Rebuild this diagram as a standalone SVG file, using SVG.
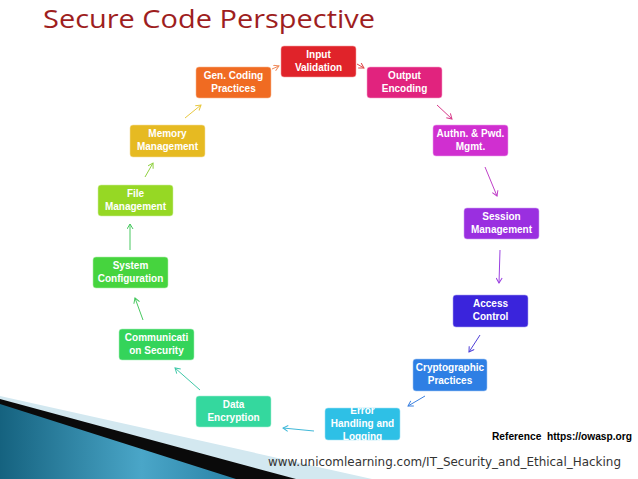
<svg xmlns="http://www.w3.org/2000/svg" width="638" height="479" viewBox="0 0 638 479">
<style>
.box{stroke-width:1;stroke-opacity:0.55}
.lbl{font-family:"Liberation Sans",Arial,sans-serif;font-weight:bold;font-size:10px;fill:#ffffff;text-anchor:middle}
.con line{stroke-width:1;fill:none}
.title{font-family:"Open Sans","Liberation Sans",sans-serif;font-size:26px;fill:#9e1e1e}
</style>
<defs>
<linearGradient id="bl" x1="0" y1="0" x2="1" y2="0">
<stop offset="0" stop-color="#15627f"/>
<stop offset="0.6" stop-color="#4aa6c8"/>
<stop offset="1" stop-color="#2a82a6"/>
</linearGradient>
<marker id="mO" viewBox="0 0 7 7" refX="6" refY="3.5" markerWidth="7" markerHeight="7" markerUnits="userSpaceOnUse" orient="auto"><path d="M1,0.5 L6,3.5 L1,6.5" fill="none" stroke="#f08a5a"/></marker>
<marker id="mR" viewBox="0 0 7 7" refX="6" refY="3.5" markerWidth="7" markerHeight="7" markerUnits="userSpaceOnUse" orient="auto"><path d="M1,0.5 L6,3.5 L1,6.5" fill="none" stroke="#e04a4a"/></marker>
<marker id="mP" viewBox="0 0 7 7" refX="6" refY="3.5" markerWidth="7" markerHeight="7" markerUnits="userSpaceOnUse" orient="auto"><path d="M1,0.5 L6,3.5 L1,6.5" fill="none" stroke="#d83a8a"/></marker>
<marker id="mM" viewBox="0 0 7 7" refX="6" refY="3.5" markerWidth="7" markerHeight="7" markerUnits="userSpaceOnUse" orient="auto"><path d="M1,0.5 L6,3.5 L1,6.5" fill="none" stroke="#c040c8"/></marker>
<marker id="mV" viewBox="0 0 7 7" refX="6" refY="3.5" markerWidth="7" markerHeight="7" markerUnits="userSpaceOnUse" orient="auto"><path d="M1,0.5 L6,3.5 L1,6.5" fill="none" stroke="#9a40e0"/></marker>
<marker id="mB" viewBox="0 0 7 7" refX="6" refY="3.5" markerWidth="7" markerHeight="7" markerUnits="userSpaceOnUse" orient="auto"><path d="M1,0.5 L6,3.5 L1,6.5" fill="none" stroke="#5040d8"/></marker>
<marker id="mC" viewBox="0 0 7 7" refX="6" refY="3.5" markerWidth="7" markerHeight="7" markerUnits="userSpaceOnUse" orient="auto"><path d="M1,0.5 L6,3.5 L1,6.5" fill="none" stroke="#3a80e0"/></marker>
<marker id="mY" viewBox="0 0 7 7" refX="6" refY="3.5" markerWidth="7" markerHeight="7" markerUnits="userSpaceOnUse" orient="auto"><path d="M1,0.5 L6,3.5 L1,6.5" fill="none" stroke="#40b8d8"/></marker>
<marker id="mT" viewBox="0 0 7 7" refX="6" refY="3.5" markerWidth="7" markerHeight="7" markerUnits="userSpaceOnUse" orient="auto"><path d="M1,0.5 L6,3.5 L1,6.5" fill="none" stroke="#40c8a8"/></marker>
<marker id="mG" viewBox="0 0 7 7" refX="6" refY="3.5" markerWidth="7" markerHeight="7" markerUnits="userSpaceOnUse" orient="auto"><path d="M1,0.5 L6,3.5 L1,6.5" fill="none" stroke="#48c860"/></marker>
<marker id="mL" viewBox="0 0 7 7" refX="6" refY="3.5" markerWidth="7" markerHeight="7" markerUnits="userSpaceOnUse" orient="auto"><path d="M1,0.5 L6,3.5 L1,6.5" fill="none" stroke="#90d040"/></marker>
<marker id="mA" viewBox="0 0 7 7" refX="6" refY="3.5" markerWidth="7" markerHeight="7" markerUnits="userSpaceOnUse" orient="auto"><path d="M1,0.5 L6,3.5 L1,6.5" fill="none" stroke="#e8c840"/></marker>
</defs>
<rect width="638" height="479" fill="#ffffff"/>
<g id="decoration">
<polygon points="0,396 372,479 0,479" fill="#d3e8f0"/>
<polygon points="0,399 296,479 0,479" fill="#0a0a0a"/>
<polygon points="0,404 236,479 0,479" fill="url(#bl)"/>
</g>
<text class="title" x="43" y="28" textLength="332" lengthAdjust="spacingAndGlyphs">Secure Code Perspective</text>
<g id="connectors" class="con">
<line x1="272" y1="69" x2="279" y2="66" stroke="#f08a5a" marker-end="url(#mO)"/>
<line x1="357" y1="64" x2="364" y2="68" stroke="#e04a4a" marker-end="url(#mR)"/>
<line x1="437" y1="105" x2="452" y2="119" stroke="#d83a8a" marker-end="url(#mP)"/>
<line x1="485" y1="167" x2="497" y2="196" stroke="#c040c8" marker-end="url(#mM)"/>
<line x1="500" y1="250" x2="499" y2="283" stroke="#9a40e0" marker-end="url(#mV)"/>
<line x1="480" y1="335" x2="469" y2="352" stroke="#5040d8" marker-end="url(#mB)"/>
<line x1="425" y1="396" x2="408" y2="406" stroke="#3a80e0" marker-end="url(#mC)"/>
<line x1="314" y1="431" x2="283" y2="428" stroke="#40b8d8" marker-end="url(#mY)"/>
<line x1="200" y1="390" x2="175" y2="368" stroke="#40c8a8" marker-end="url(#mT)"/>
<line x1="143" y1="320" x2="135" y2="298" stroke="#48c860" marker-end="url(#mG)"/>
<line x1="130" y1="250" x2="130" y2="224" stroke="#48c860" marker-end="url(#mG)"/>
<line x1="145" y1="177" x2="153" y2="163" stroke="#90d040" marker-end="url(#mL)"/>
<line x1="185" y1="118" x2="201" y2="105" stroke="#e8c840" marker-end="url(#mA)"/>
</g>
<g id="n-input"><rect class="box" x="281" y="46" width="75" height="31" rx="3" fill="#e0232a" stroke="#f5a0a0"/><text class="lbl" x="318.5" y="57.5">Input</text><text class="lbl" x="318.5" y="70.5">Validation</text></g>
<g id="n-output"><rect class="box" x="367" y="67" width="75" height="31" rx="3" fill="#e1237e" stroke="#f5a0c8"/><text class="lbl" x="404.5" y="78.5">Output</text><text class="lbl" x="404.5" y="91.5">Encoding</text></g>
<g id="n-gen"><rect class="box" x="196" y="67" width="75" height="31" rx="3" fill="#f06b22" stroke="#f8b890"/><text class="lbl" x="233.5" y="78.5">Gen. Coding</text><text class="lbl" x="233.5" y="91.5">Practices</text></g>
<g id="n-authn"><rect class="box" x="433" y="125" width="75" height="31" rx="3" fill="#d02fd0" stroke="#eba0eb"/><text class="lbl" x="470.5" y="136.5">Authn. &amp; Pwd.</text><text class="lbl" x="470.5" y="149.5">Mgmt.</text></g>
<g id="n-session"><rect class="box" x="464" y="208" width="75" height="31" rx="3" fill="#9a2fe0" stroke="#d0a0f2"/><text class="lbl" x="501.5" y="219.5">Session</text><text class="lbl" x="501.5" y="232.5">Management</text></g>
<g id="n-access"><rect class="box" x="453" y="295" width="75" height="32" rx="3" fill="#3a24dc" stroke="#a8a0f0"/><text class="lbl" x="490.5" y="307">Access</text><text class="lbl" x="490.5" y="320">Control</text></g>
<g id="n-crypto"><rect class="box" x="413" y="359" width="74" height="32" rx="3" fill="#2e7fe4" stroke="#a0c4f4"/><text class="lbl" x="450" y="371">Cryptographic</text><text class="lbl" x="450" y="384">Practices</text></g>
<g id="n-error"><rect class="box" x="325" y="408" width="75" height="32" rx="3" fill="#2ec0e6" stroke="#a0e2f4"/><text class="lbl" x="362.5" y="413.5">Error</text><text class="lbl" x="362.5" y="426.5">Handling and</text><text class="lbl" x="362.5" y="439.5">Logging</text></g>
<g id="n-data"><rect class="box" x="196" y="396" width="75" height="31" rx="3" fill="#34d89e" stroke="#a8eed4"/><text class="lbl" x="233.5" y="407.5">Data</text><text class="lbl" x="233.5" y="420.5">Encryption</text></g>
<g id="n-comm"><rect class="box" x="119" y="329" width="75" height="31" rx="3" fill="#34d45a" stroke="#a8eebc"/><text class="lbl" x="156.5" y="340.5">Communicati</text><text class="lbl" x="156.5" y="353.5">on Security</text></g>
<g id="n-sys"><rect class="box" x="93" y="257" width="75" height="31" rx="3" fill="#46d43e" stroke="#b0eeaa"/><text class="lbl" x="130.5" y="268.5">System</text><text class="lbl" x="130.5" y="281.5">Configuration</text></g>
<g id="n-file"><rect class="box" x="98" y="185" width="75" height="31" rx="3" fill="#96d824" stroke="#d0eea0"/><text class="lbl" x="135.5" y="196.5">File</text><text class="lbl" x="135.5" y="209.5">Management</text></g>
<g id="n-memory"><rect class="box" x="130" y="125" width="75" height="32" rx="3" fill="#e6ba22" stroke="#f4dea0"/><text class="lbl" x="167.5" y="137">Memory</text><text class="lbl" x="167.5" y="150">Management</text></g>
<text x="492" y="440" xml:space="preserve" font-family="Liberation Sans, Arial, sans-serif" font-weight="bold" font-size="10" fill="#000000" textLength="140" lengthAdjust="spacingAndGlyphs">Reference  https://owasp.org</text>
<text x="268" y="466" font-family="DejaVu Sans, Verdana, sans-serif" font-size="11.5" fill="#333333" textLength="353" lengthAdjust="spacingAndGlyphs">www.unicomlearning.com/IT_Security_and_Ethical_Hacking</text>
</svg>
